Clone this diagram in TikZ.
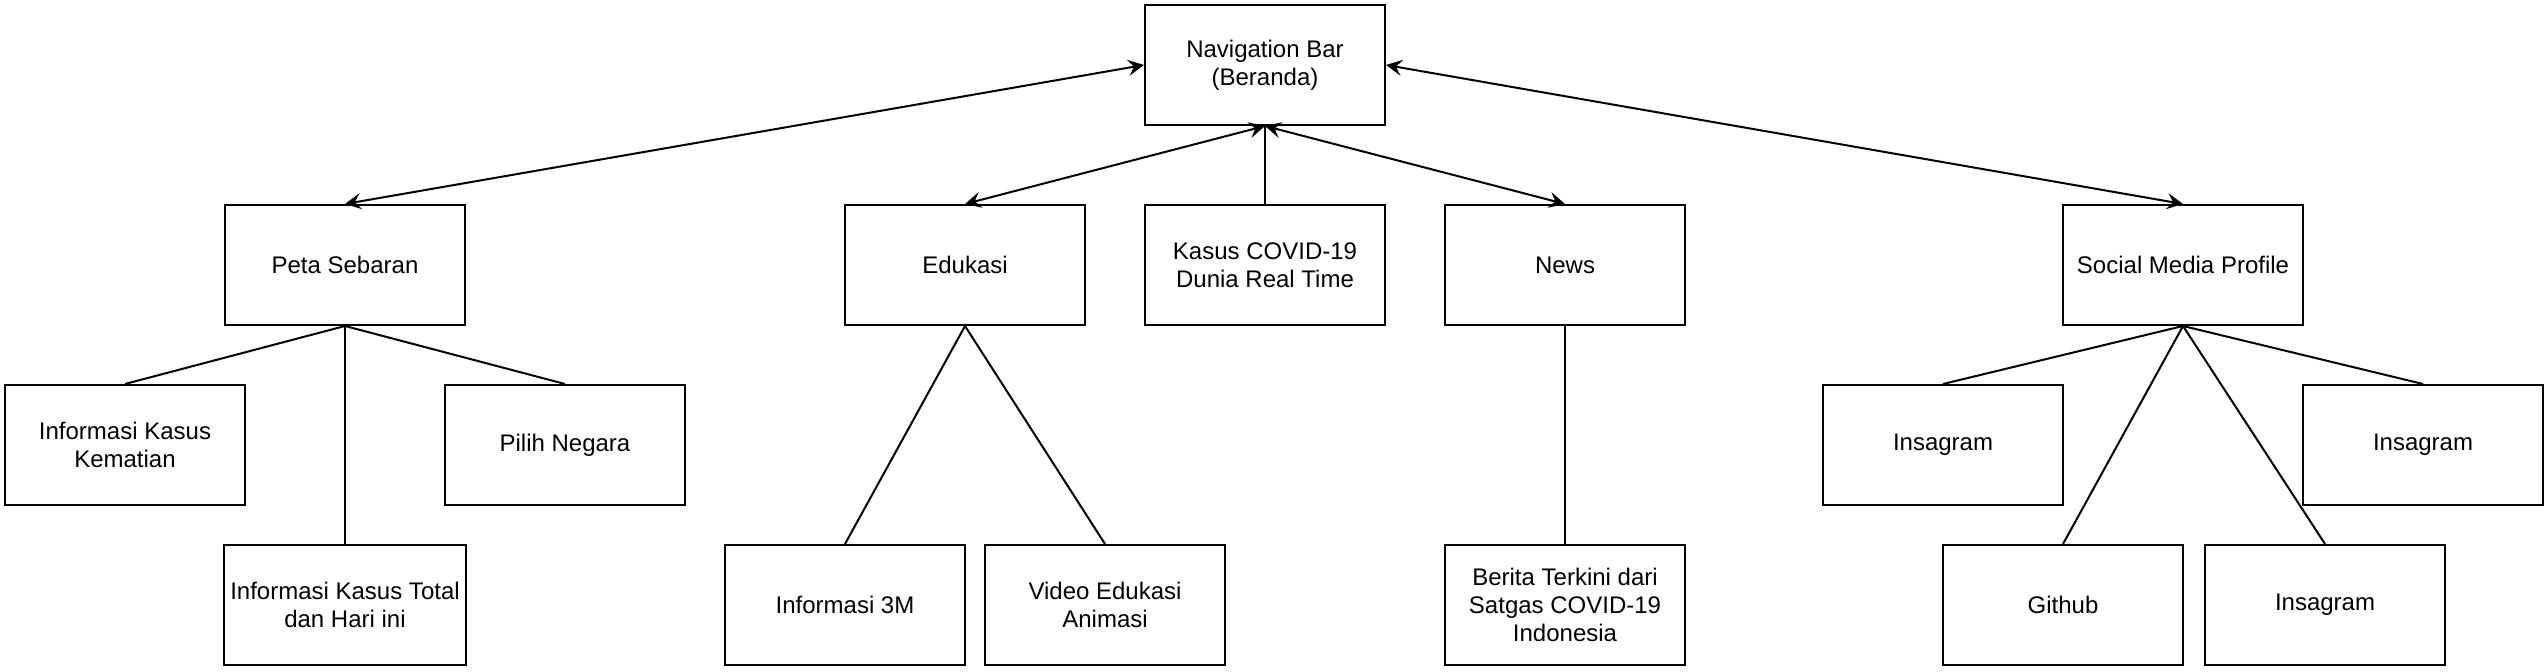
\documentclass[tikz,border=0pt]{standalone}
\usepackage{fontspec}
\setmainfont{Liberation Sans}
\usetikzlibrary{positioning,arrows.meta}

\begin{document}
\begin{tikzpicture}[x=1pt,y=-1pt,on grid,line width=1pt,
    box/.style={draw,minimum width=120pt,minimum height=60pt,align=center,
        font=\fontsize{12}{14}\selectfont},
    >={Stealth[length=8pt,width=8pt,inset=3pt]}]
    \useasboundingbox (0,0) rectangle (1274,336);
    \node[box] (nav) at (632.5,32.5) {Navigation Bar\\(Beranda)};
    \node[box] (kasus)[below=100pt of nav] {Kasus COVID-19\\Dunia Real Time};
    \node[box] (edukasi)[left=150pt of kasus] {Edukasi};
    \node[box] (news)[right=150pt of kasus] {News};
    \node[box] (peta)[left=310pt of edukasi] {Peta Sebaran};
    \node[box] (sosmed)[right=309pt of news] {Social Media Profile};
    % peta sebaran
    \node[box] (kematian)[below left=90pt and 110pt of peta] {Informasi Kasus\\Kematian};
    \node[box] (negara)[below right=90pt and 110pt of peta] {Pilih Negara};
    \node[box] (total)[below=170pt of peta] {Informasi Kasus Total\\dan Hari ini};
    % edukasi
    \node[box] (tigaM)[below left=170pt and 60pt of edukasi] {Informasi 3M};
    \node[box] (video)[below right=170pt and 70pt of edukasi] {Video Edukasi\\Animasi};
    % news
    \node[box] (berita)[below=170pt of news] {Berita Terkini dari\\Satgas COVID-19\\Indonesia};
    % social media
    \node[box] (igkiri)[below left=90pt and 120pt of sosmed] {Insagram};
    \node[box] (igkanan)[below right=90pt and 120pt of sosmed] {Insagram};
    \node[box] (github)[below left=170pt and 60pt of sosmed] {Github};
    \node[box] (igbawah)[below right=170pt and 71pt of sosmed] {Insagram};
    \path[<->]
    (nav.west) edge (peta.north)
    (nav.south) edge (edukasi.north)
                edge (news.north)
    (nav.east) edge (sosmed.north);
    \path
    (nav.south) edge (kasus.north)
    (peta.south) edge (kematian.north)
                 edge (negara.north)
                 edge (total.north)
    (edukasi.south) edge (tigaM.north)
                    edge (video.north)
    (news.south) edge (berita.north)
    (sosmed.south) edge (igkiri.north)
                   edge (igkanan.north)
                   edge (github.north)
                   edge (igbawah.north);
\end{tikzpicture}
\end{document}
